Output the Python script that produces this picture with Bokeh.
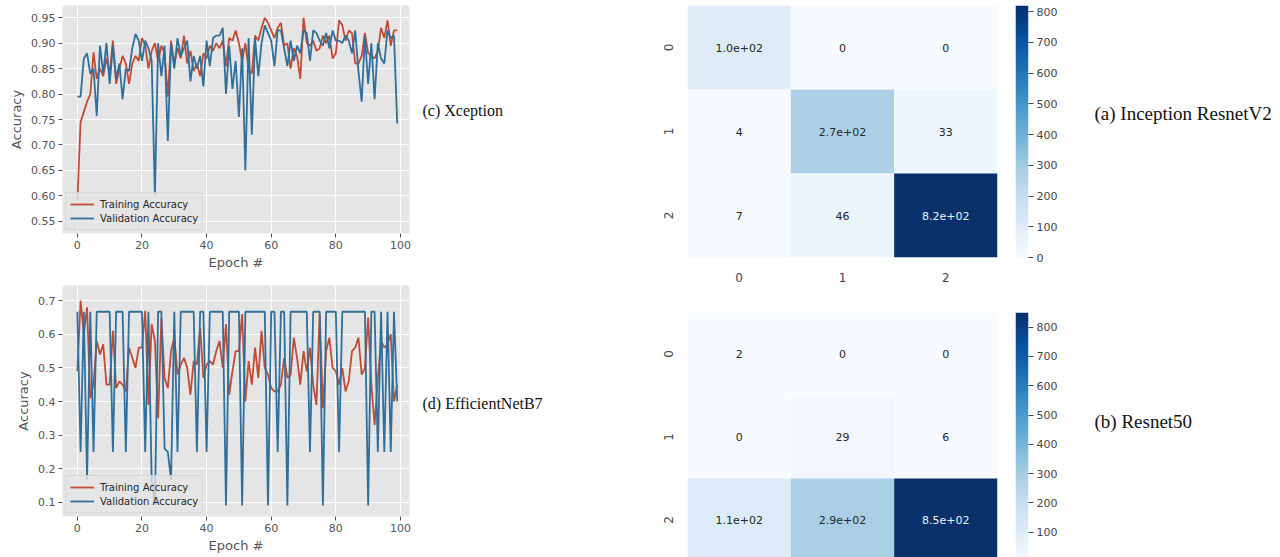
import numpy as np
from bokeh.plotting import figure
from bokeh.layouts import row, column
from bokeh.models import (Range1d, FixedTicker, NumeralTickFormatter, LinearColorMapper,
                          Legend, LegendItem, ColumnDataSource)
from bokeh.palettes import Blues256
from bokeh.core.properties import value
from bokeh.embed import file_html
from bokeh.resources import INLINE

# ---------------------------------------------------------------- data
epochs = list(range(100))

xception_train = [
    0.59, 0.745, 0.765, 0.785, 0.80, 0.882, 0.83, 0.85, 0.835, 0.87,
    0.84, 0.905, 0.82, 0.85, 0.875, 0.86, 0.82, 0.86, 0.875, 0.865,
    0.91, 0.895, 0.85, 0.885, 0.90, 0.865, 0.895, 0.88, 0.795, 0.905,
    0.86, 0.89, 0.87, 0.915, 0.86, 0.885, 0.845, 0.86, 0.835, 0.88,
    0.87, 0.895, 0.885, 0.90, 0.89, 0.905, 0.855, 0.91, 0.905, 0.925,
    0.90, 0.865, 0.90, 0.85, 0.84, 0.915, 0.905, 0.93, 0.95, 0.94,
    0.925, 0.91, 0.93, 0.94, 0.895, 0.90, 0.85, 0.89, 0.875, 0.83,
    0.95, 0.90, 0.895, 0.905, 0.885, 0.89, 0.915, 0.90, 0.915, 0.87,
    0.88, 0.945, 0.935, 0.905, 0.925, 0.92, 0.86, 0.86, 0.875, 0.92,
    0.88, 0.875, 0.87, 0.885, 0.93, 0.91, 0.945, 0.895, 0.925, 0.925,
]
xception_val = [
    0.795, 0.795, 0.87, 0.88, 0.84, 0.85, 0.757, 0.895, 0.84, 0.90,
    0.82, 0.895, 0.83, 0.86, 0.79, 0.85, 0.845, 0.89, 0.918, 0.905,
    0.865, 0.905, 0.89, 0.865, 0.60, 0.90, 0.835, 0.895, 0.708, 0.90,
    0.85, 0.91, 0.875, 0.89, 0.905, 0.825, 0.875, 0.85, 0.875, 0.815,
    0.905, 0.855, 0.91, 0.915, 0.915, 0.93, 0.80, 0.895, 0.81, 0.865,
    0.755, 0.89, 0.65, 0.91, 0.72, 0.91, 0.835, 0.90, 0.935, 0.92,
    0.905, 0.855, 0.925, 0.925, 0.89, 0.855, 0.905, 0.865, 0.895, 0.88,
    0.925, 0.92, 0.865, 0.925, 0.92, 0.905, 0.895, 0.92, 0.89, 0.925,
    0.905, 0.905, 0.90, 0.915, 0.905, 0.88, 0.925, 0.845, 0.785, 0.915,
    0.82, 0.90, 0.79, 0.90, 0.87, 0.86, 0.925, 0.91, 0.915, 0.742,
]

effnet_train = [
    0.49, 0.70, 0.60, 0.68, 0.41, 0.45, 0.58, 0.54, 0.57, 0.45,
    0.45, 0.61, 0.44, 0.46, 0.45, 0.43, 0.56, 0.53, 0.50, 0.56,
    0.56, 0.67, 0.39, 0.63, 0.58, 0.35, 0.65, 0.47, 0.44, 0.55,
    0.59, 0.48, 0.51, 0.53, 0.50, 0.42, 0.52, 0.51, 0.62, 0.47,
    0.51, 0.52, 0.51, 0.55, 0.58, 0.50, 0.63, 0.42, 0.49, 0.55,
    0.55, 0.66, 0.40, 0.52, 0.45, 0.56, 0.47, 0.61, 0.50, 0.48,
    0.44, 0.43, 0.43, 0.45, 0.53, 0.47, 0.48, 0.59, 0.53, 0.45,
    0.55, 0.49, 0.56, 0.45, 0.39, 0.66, 0.38, 0.55, 0.59, 0.50,
    0.49, 0.45, 0.50, 0.43, 0.46, 0.55, 0.56, 0.59, 0.48, 0.50,
    0.65, 0.45, 0.33, 0.47, 0.58, 0.56, 0.57, 0.60, 0.40, 0.45,
]
effnet_val = [
    0.667, 0.25, 0.667, 0.167, 0.667, 0.25, 0.667, 0.667, 0.667, 0.667,
    0.667, 0.25, 0.667, 0.667, 0.667, 0.25, 0.667, 0.667, 0.667, 0.667,
    0.667, 0.25, 0.667, 0.167, 0.091, 0.667, 0.667, 0.26, 0.25, 0.167,
    0.667, 0.25, 0.667, 0.667, 0.667, 0.667, 0.667, 0.25, 0.667, 0.667,
    0.25, 0.667, 0.667, 0.667, 0.667, 0.667, 0.091, 0.667, 0.667, 0.667,
    0.667, 0.091, 0.667, 0.667, 0.667, 0.667, 0.667, 0.667, 0.667, 0.091,
    0.667, 0.667, 0.25, 0.667, 0.667, 0.091, 0.667, 0.667, 0.667, 0.667,
    0.667, 0.667, 0.25, 0.667, 0.667, 0.667, 0.091, 0.667, 0.667, 0.667,
    0.667, 0.25, 0.667, 0.667, 0.667, 0.667, 0.667, 0.667, 0.667, 0.667,
    0.091, 0.667, 0.667, 0.25, 0.667, 0.25, 0.667, 0.25, 0.667, 0.40,
]

classes = ["0", "1", "2"]
cm_inception = [[100, 0, 0], [4, 270, 33], [7, 46, 820]]
cm_resnet50 = [[2, 0, 0], [0, 29, 6], [110, 290, 850]]

x_ticks = [0, 20, 40, 60, 80, 100]
xception_y_ticks = [0.55, 0.60, 0.65, 0.70, 0.75, 0.80, 0.85, 0.90, 0.95]
effnet_y_ticks = [0.1, 0.2, 0.3, 0.4, 0.5, 0.6, 0.7]
cbar_ticks_a = [0, 100, 200, 300, 400, 500, 600, 700, 800]
cbar_ticks_b = [100, 200, 300, 400, 500, 600, 700, 800]

# ---------------------------------------------------------------- style
RED = "#C24B33"
BLUE = "#2F6F9C"
TICK_GRAY = "#555555"
SANS = "DejaVu Sans"
SERIF = "Liberation Serif"
PALETTE = list(Blues256[::-1])


def history_plot(train, val, y_range, y_ticks, y_fmt, top, frame_h, bottom):
    p = figure(frame_width=347, frame_height=frame_h,
               min_border_left=62, min_border_right=6,
               min_border_top=top, min_border_bottom=bottom,
               x_range=Range1d(-4.6, 102.8), y_range=Range1d(*y_range),
               output_backend="svg", toolbar_location=None)
    p.background_fill_color = "#E5E5E5"
    p.border_fill_color = "white"
    p.outline_line_color = None
    p.grid.grid_line_color = "white"
    p.grid.grid_line_width = 1

    p.xaxis.ticker = FixedTicker(ticks=x_ticks)
    p.yaxis.ticker = FixedTicker(ticks=y_ticks)
    p.yaxis.formatter = NumeralTickFormatter(format=y_fmt)
    for ax in p.axis:
        ax.axis_line_color = None
        ax.major_tick_line_color = TICK_GRAY
        ax.major_tick_in = 0
        ax.major_tick_out = 4
        ax.minor_tick_line_color = None
        ax.major_label_text_font = SANS
        ax.major_label_text_font_size = "11px"
        ax.major_label_text_color = TICK_GRAY
        ax.axis_label_text_font = SANS
        ax.axis_label_text_font_size = "13px"
        ax.axis_label_text_font_style = "normal"
        ax.axis_label_text_color = TICK_GRAY
    p.xaxis.major_label_standoff = 3
    p.xaxis.axis_label_standoff = 3
    p.yaxis.major_label_standoff = 3
    p.yaxis.axis_label_standoff = 4
    p.xaxis.axis_label = "Epoch #"
    p.yaxis.axis_label = "Accuracy"

    r_t = p.line(epochs, train, line_color=RED, line_width=1.8)
    r_v = p.line(epochs, val, line_color=BLUE, line_width=1.8)

    legend = Legend(items=[LegendItem(label="Training Accuracy", renderers=[r_t]),
                           LegendItem(label="Validation Accuracy", renderers=[r_v])],
                    location="bottom_left")
    legend.margin = 3
    legend.padding = 4
    legend.spacing = 0
    legend.glyph_width = 24
    legend.glyph_height = 14
    legend.label_height = 14
    legend.label_standoff = 6
    legend.label_text_font = SANS
    legend.label_text_font_size = "10px"
    legend.label_text_color = "#262626"
    legend.background_fill_color = "#E5E5E5"
    legend.background_fill_alpha = 0.8
    legend.border_line_color = "#CCCCCC"
    legend.border_line_width = 1
    p.add_layout(legend)
    return p


def confusion_plot(cm, top, frame_h, bottom, show_x, cbar_ticks):
    n = len(classes)
    vmax = max(max(r) for r in cm)
    xs, ys, vals, labels, colors = [], [], [], [], []
    for i in range(n):
        for j in range(n):
            v = cm[i][j]
            xs.append(j + 0.5)
            ys.append(i + 0.5)
            vals.append(v)
            labels.append(f"{v:.1e}" if v >= 100 else str(v))
            colors.append("#EEF3FA" if v > 0.6 * vmax else "#262626")
    src = ColumnDataSource(dict(x=xs, y=ys, v=vals, label=labels, tc=colors))

    mapper = LinearColorMapper(palette=PALETTE, low=0, high=vmax)

    # matrix cells
    p = figure(frame_width=310, frame_height=frame_h,
               min_border_left=37, min_border_right=18,
               min_border_top=top, min_border_bottom=bottom,
               x_range=Range1d(0, n), y_range=Range1d(n, 0),
               output_backend="svg", toolbar_location=None)
    p.outline_line_color = None
    p.grid.visible = False
    p.rect(x="x", y="y", width=1, height=1, source=src,
           fill_color={"field": "v", "transform": mapper}, line_color=None)
    p.text(x="x", y="y", text="label", source=src, text_color="tc",
           text_align="center", text_baseline="middle",
           text_font=value(SANS), text_font_size="11px")

    centers = [k + 0.5 for k in range(n)]
    overrides = {c: lab for c, lab in zip(centers, classes)}
    for ax in p.axis:
        ax.ticker = FixedTicker(ticks=centers)
        ax.major_label_overrides = overrides
        ax.axis_line_color = None
        ax.major_tick_line_color = None
        ax.minor_tick_line_color = None
        ax.major_label_text_font = SANS
        ax.major_label_text_font_size = "12px"
        ax.major_label_text_color = "#444444"
    p.yaxis.major_label_orientation = "vertical"
    p.yaxis.major_label_standoff = 9
    p.xaxis.major_label_standoff = 9
    p.xaxis.visible = show_x

    # colour scale strip with its own right-hand axis
    ramp = np.linspace(0, vmax, 256).reshape(256, 1)
    cb = figure(frame_width=13, frame_height=frame_h,
                min_border_left=0, min_border_right=62,
                min_border_top=top, min_border_bottom=bottom,
                x_range=Range1d(0, 1), y_range=Range1d(0, vmax),
                x_axis_type=None, y_axis_location="right",
                output_backend="svg", toolbar_location=None)
    cb.outline_line_color = None
    cb.grid.visible = False
    cb.image(image=[ramp], x=0, y=0, dw=1, dh=vmax, color_mapper=mapper)
    ax = cb.yaxis[0]
    ax.ticker = FixedTicker(ticks=cbar_ticks)
    ax.axis_line_color = None
    ax.major_tick_in = 0
    ax.major_tick_out = 5
    ax.major_tick_line_color = "#444444"
    ax.minor_tick_line_color = None
    ax.major_label_standoff = 3
    ax.major_label_text_font = SANS
    ax.major_label_text_font_size = "11px"
    ax.major_label_text_color = "#444444"
    return row(p, cb)


def caption_panel(width, xs, ys, texts, size):
    p = figure(width=width, height=557, x_range=Range1d(0, width), y_range=Range1d(557, 0),
               x_axis_type=None, y_axis_type=None, min_border=0,
               output_backend="svg", toolbar_location=None)
    p.outline_line_color = None
    p.grid.visible = False
    p.text(x=xs, y=ys, text=texts, text_font=value(SERIF), text_font_size=size,
           text_baseline="middle", text_align="left", text_color="#111111")
    return p


fig_c = history_plot(xception_train, xception_val, (0.526, 0.974), xception_y_ticks, "0.00",
                     top=5, frame_h=228, bottom=45)
fig_d = history_plot(effnet_train, effnet_val, (0.058, 0.745), effnet_y_ticks, "0.0",
                     top=7, frame_h=231, bottom=41)

hm_a = confusion_plot(cm_inception, top=5, frame_h=252, bottom=23, show_x=True,
                      cbar_ticks=cbar_ticks_a)
hm_b = confusion_plot(cm_resnet50, top=28, frame_h=249, bottom=0, show_x=False,
                      cbar_ticks=cbar_ticks_b)

cap_left = caption_panel(235, [7, 7], [110, 403], ["(c) Xception", "(d) EfficientNetB7"], "16px")
cap_right = caption_panel(190, [4, 4], [113, 421], ["(a) Inception ResnetV2", "(b) Resnet50"], "19px")

layout = row(column(fig_c, fig_d), cap_left, column(hm_a, hm_b), cap_right)

with open("out.html", "w") as f:
    f.write(file_html(layout, INLINE))
